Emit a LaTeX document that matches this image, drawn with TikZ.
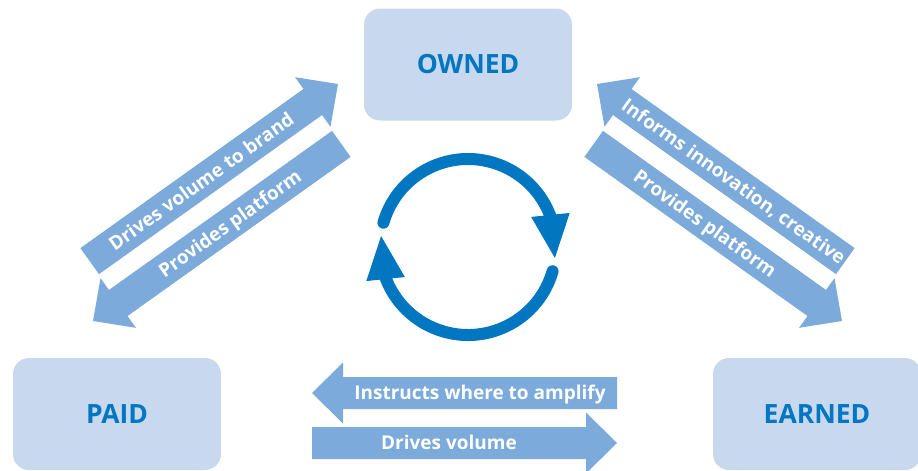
\documentclass[tikz,border=0pt]{standalone}
\usepackage{fontspec}
\setmainfont{Open Sans}
\usetikzlibrary{arrows.meta,bending}
\definecolor{boxblue}{RGB}{200,217,239}
\definecolor{labelblue}{RGB}{0,119,192}
\definecolor{flowblue}{RGB}{123,170,219}
\definecolor{loopblue}{RGB}{0,119,192}

% block arrow: name, tip, turn, text angle, text
\newcommand{\flowarrow}[5]{%
  \begin{scope}[shift={(#2)}, rotate=#3]
    \fill[flowblue] (0,0) -- (31,-30.5) -- (31,-16) -- (305,-16) -- (305,16) -- (31,16) -- (31,30.5) -- cycle;
    \node[flowlabel, rotate=#4] (#1) at (168,0) {#5};
  \end{scope}}

\begin{document}
\begin{tikzpicture}[x=1pt, y=-1pt,
  box/.style={rectangle, rounded corners=16pt, fill=boxblue, text=labelblue, minimum width=208pt, minimum height=112pt, font=\fontsize{26.5}{30}\selectfont\bfseries},
  flowlabel/.style={text=white, font=\fontsize{19}{22}\selectfont\bfseries, text height=13.6pt, text depth=0pt, inner sep=0pt},
  looparrow/.style={draw=loopblue, line width=12pt, line cap=round, -{Triangle[length=45pt, width=35pt]}}
]
\useasboundingbox (0,0) rectangle (918,471);

\node[box] (owned) at (468,64.5) {OWNED};
\node[box] (paid) at (117,414) {PAID};
\node[box] (earned) at (817,414) {EARNED};

\coordinate (tipA) at (312,393);
\coordinate (tipB) at (617,443);
\coordinate (tipC) at (338,84);
\coordinate (tipD) at (93,321);
\coordinate (tipE) at (597,84);
\coordinate (tipF) at (842,321);

\flowarrow{amplify}{tipA}{0}{0}{Instructs where to amplify}
\flowarrow{volume}{tipB}{180}{0}{Drives volume}
\flowarrow{tobrand}{tipC}{215.5}{35.5}{Drives volume to brand}
\flowarrow{platformleft}{tipD}{35.5}{35.5}{Provides platform}
\flowarrow{informs}{tipE}{-35.5}{-35.5}{Informs innovation, creative}
\flowarrow{platformright}{tipF}{144.5}{-35.5}{Provides platform}

% cycle in the middle
\coordinate (loopc) at (468,247);
\draw[looparrow] ([shift={(196:88)}]loopc) arc[start angle=196, end angle=368.3, radius=88];
\draw[looparrow] ([shift={(16:88)}]loopc) arc[start angle=16, end angle=188.3, radius=88];
\end{tikzpicture}
\end{document}
